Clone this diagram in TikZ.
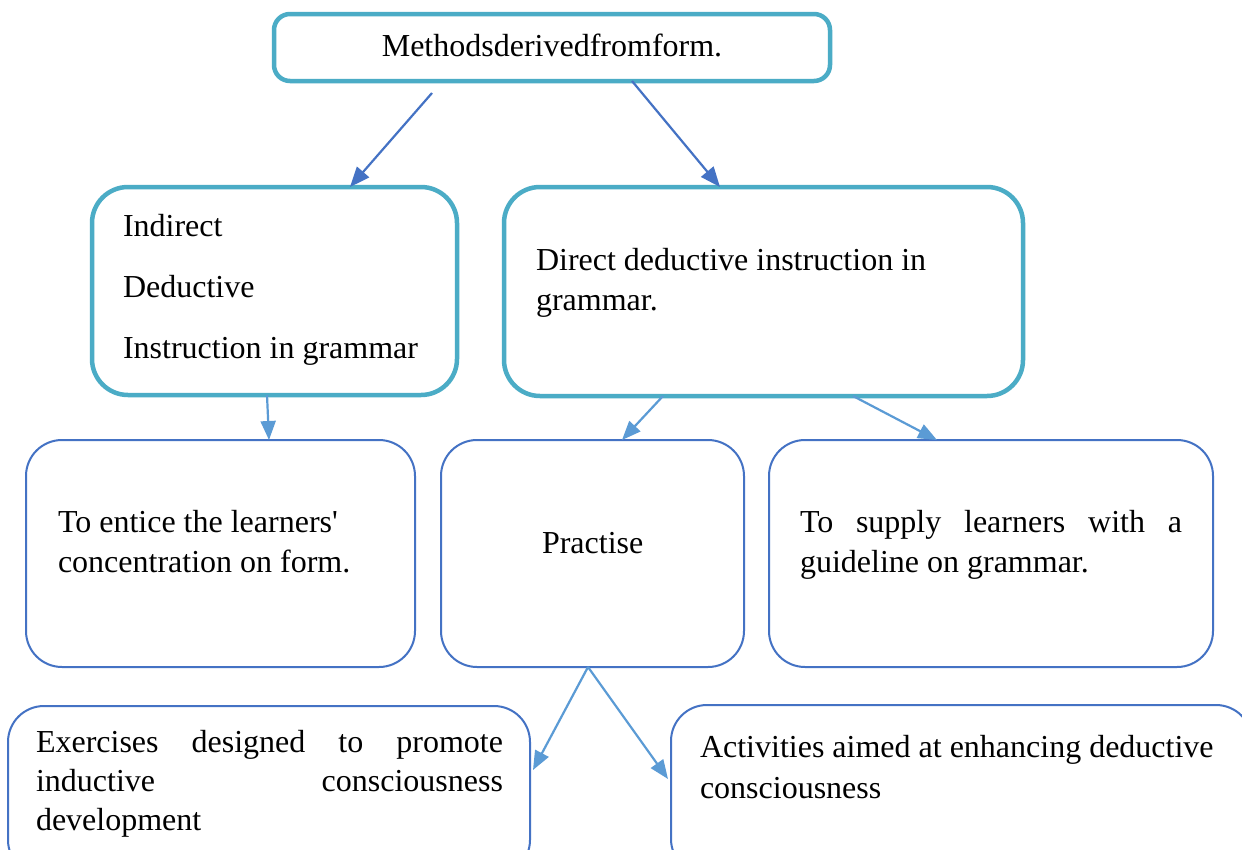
\documentclass[tikz,border=0pt]{standalone}
\usepackage{fontspec}
\setmainfont{Liberation Serif}[Ligatures=TeXOff]
\usetikzlibrary{arrows.meta}
\definecolor{tealline}{HTML}{4BACC6}
\definecolor{blueline}{HTML}{4472C4}
\definecolor{lightarrow}{HTML}{5B9BD5}
\begin{document}
\begin{tikzpicture}[x=1pt,y=-1pt,
  every node/.style={inner sep=0pt, outer sep=0pt},
  txt/.style={anchor=base west, font=\fontsize{32}{40}\selectfont},
  tealbox/.style={draw=tealline, line width=4.5pt, fill=white},
  bluebox/.style={draw=blueline, line width=2pt, fill=white, rounded corners=36pt},
  darkarr/.style={draw=blueline, line width=2.2pt, -{Triangle[length=20pt,width=16pt]}},
  lightarr/.style={draw=lightarrow, line width=2.2pt, -{Triangle[length=19pt,width=15pt]}}]
\clip (0,0) rectangle (1242,849);
\fill[white] (0,0) rectangle (1242,849);

% boxes
\node[tealbox, rounded corners=16pt, minimum width=556pt, minimum height=67pt] (top) at (552,47.5) {};
\node[tealbox, rounded corners=36pt, minimum width=365pt, minimum height=208pt] (L) at (274.5,291) {};
\node[tealbox, rounded corners=36pt, minimum width=519pt, minimum height=209pt] (R) at (763.5,291.5) {};
\node[bluebox, minimum width=389pt, minimum height=227pt] (B1) at (220.5,553.5) {};
\node[bluebox, minimum width=303pt, minimum height=227pt] (B2) at (592.5,553.5) {};
\node[bluebox, minimum width=444pt, minimum height=227pt] (B3) at (991,553.5) {};
\node[bluebox, minimum width=522pt, minimum height=170pt] (E) at (269,791) {};
\node[bluebox, minimum width=581pt, minimum height=170pt] (A) at (961.5,790) {};

% texts
\node[txt, anchor=base] (ttop) at (552,56) {Methodsderivedfromform.};
\node[txt] (tl1) at (123,236) {Indirect};
\node[txt] (tl2) at (123,297) {Deductive};
\node[txt] (tl3) at (123,358) {Instruction in grammar};
\node[txt] (tr1) at (536,270) {Direct deductive instruction in};
\node[txt] (tr2) at (536,310) {grammar.};
\node[txt] (tb11) at (58,532) {To entice the learners'};
\node[txt] (tb12) at (58,572) {concentration on form.};
\node[txt] (tb2) at (542,553) {Practise};
\node[txt] (tb31) at (800,532) {\makebox[382pt][s]{To supply learners with a}};
\node[txt] (tb32) at (800,572) {guideline on grammar.};
\node[txt] (te1) at (36,752) {\makebox[467pt][s]{Exercises designed to promote}};
\node[txt] (te2) at (36,791) {\makebox[467pt][s]{inductive consciousness}};
\node[txt] (te3) at (36,830) {development};
\node[txt] (ta1) at (700,757) {Activities aimed at enhancing deductive};
\node[txt] (ta2) at (700,798) {consciousness};

% connectors
\draw[darkarr] ([xshift=-120pt,yshift=-12pt]top.south) -- ([xshift=75.5pt]L.north);
\draw[darkarr] ([xshift=80pt]top.south) -- ([xshift=-43.5pt]R.north);
\draw[lightarr] ([xshift=-7.5pt]L.south) -- ([xshift=48.5pt]B1.north);
\draw[lightarr] ([xshift=-100.5pt]R.south) -- ([xshift=29.5pt]B2.north);
\draw[lightarr] ([xshift=89.5pt]R.south) -- ([xshift=-54pt]B3.north);
\draw[lightarr] ([xshift=-4.5pt]B2.south) -- ([xshift=3pt,yshift=21pt]E.east);
\draw[lightarr] ([xshift=-4.5pt]B2.south) -- ([xshift=-3pt,yshift=11pt]A.west);
\end{tikzpicture}
\end{document}
